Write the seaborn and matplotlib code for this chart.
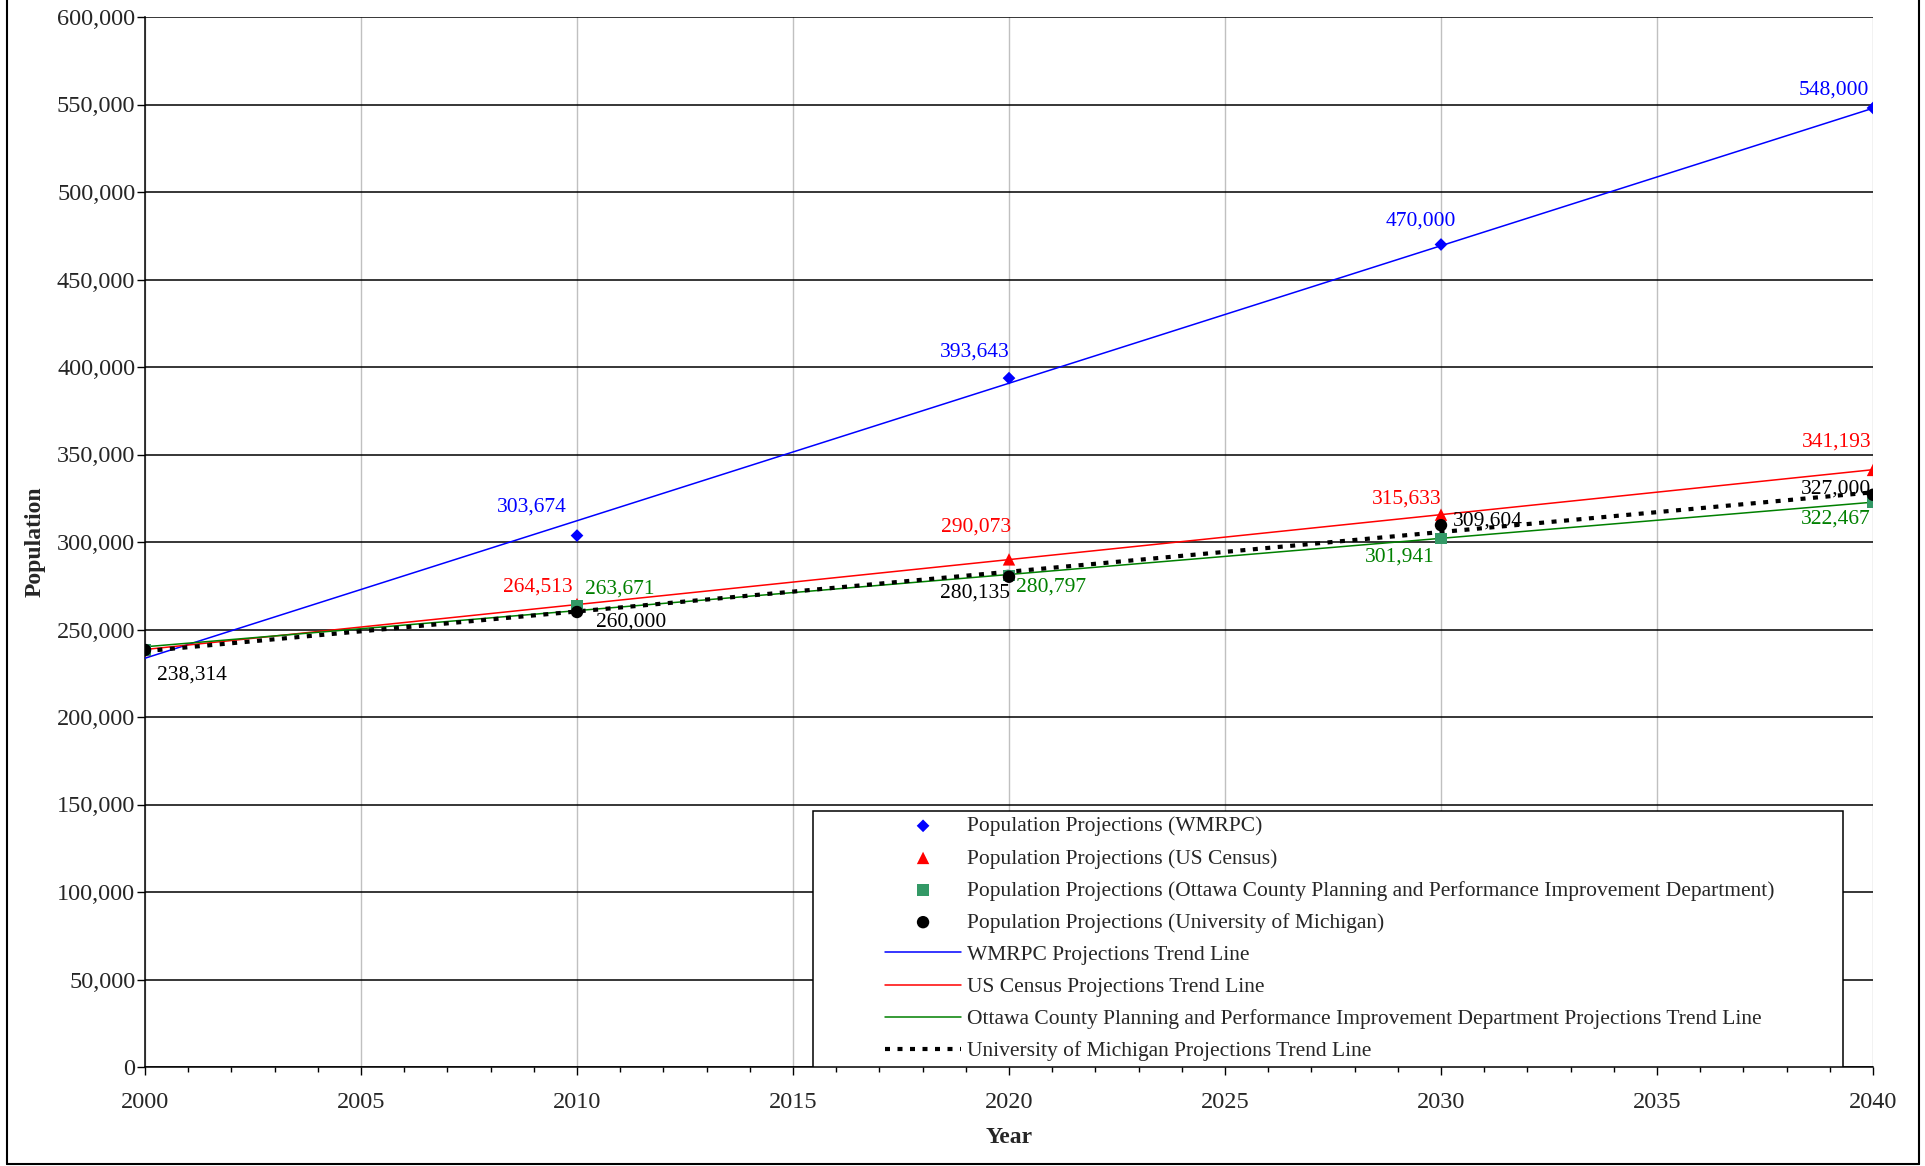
import numpy as np
import pandas as pd
import matplotlib
matplotlib.use("Agg")
import matplotlib.pyplot as plt
from matplotlib.ticker import MultipleLocator, FuncFormatter
from matplotlib.patches import Rectangle
from matplotlib.lines import Line2D
import seaborn as sns

# ---------------- data ----------------
years = [2000, 2010, 2020, 2030, 2040]
wmrpc = [238314, 303674, 393643, 470000, 548000]
census = [238314, 264513, 290073, 315633, 341193]
ottawa = [238314, 263671, 280797, 301941, 322467]
umich = [238314, 260000, 280135, 309604, 327000]

point_names = [
    "Population Projections (WMRPC)",
    "Population Projections (US Census)",
    "Population Projections (Ottawa County Planning and Performance Improvement Department)",
    "Population Projections (University of Michigan)",
]
trend_names = [
    "WMRPC Projections Trend Line",
    "US Census Projections Trend Line",
    "Ottawa County Planning and Performance Improvement Department Projections Trend Line",
    "University of Michigan Projections Trend Line",
]
# which points carry a data label (index into years)
labelled = [[1, 2, 3, 4], [1, 2, 3, 4], [1, 2, 3, 4], [0, 1, 2, 3, 4]]

# ---------------- styles ----------------
series = [wmrpc, census, ottawa, umich]
marker_colors = ["#0000FF", "#FF0000", "#339966", "#000000"]
line_colors = ["#0000FF", "#FF0000", "#008000", "#000000"]
text_colors = ["#0000FF", "#FF0000", "#008000", "#000000"]
markers = ["D", "^", "s", "o"]
msizes = [42, 80, 70, 80]
# label offsets in pixels (dx, dy) per labelled point
offsets = [
    [(-45, 29), (-34, 26), (-20, 23), (-39, 18)],
    [(-39, 17), (-33, 32), (-34, 16), (-36, 28)],
    [(43, 17), (42, -11), (-41, -18), (-37, -16)],
    [(47, -25), (54, -10), (-34, -16), (47, 4), (-37, 6)],
]

sns.set_style("white")
plt.rcParams["font.family"] = ["Liberation Serif", "DejaVu Serif"]

W, H = 1925, 1166
fig = plt.figure(figsize=(W / 100, H / 100), dpi=100)
L, R, T, B = 145, 1873, 17, 1067
ax = fig.add_axes([L / W, 1 - B / H, (R - L) / W, (B - T) / H])

# long-form data for seaborn
rows = []
for name, vals in zip(point_names, series):
    for y, v in zip(years, vals):
        rows.append({"Year": y, "Population": v, "series": name})
df = pd.DataFrame(rows)

xfit = np.linspace(2000, 2040, 81)
trend_rows = []
for name, vals in zip(trend_names, series):
    coef = np.polyfit(years, vals, 1)
    for xv in xfit:
        trend_rows.append({"Year": xv, "Population": np.polyval(coef, xv), "series": name})
tdf = pd.DataFrame(trend_rows)

# trend lines
for i, name in enumerate(trend_names):
    sub = tdf[tdf["series"] == name]
    sns.lineplot(data=sub, x="Year", y="Population", ax=ax, color=line_colors[i],
                 lw=3.0 if i == 3 else 1.1, linestyle=(0, (1.2, 1.8)) if i == 3 else "-",
                 label=name, zorder=3)

# markers
for i, name in enumerate(point_names):
    sub = df[df["series"] == name]
    sns.scatterplot(data=sub, x="Year", y="Population", ax=ax, color=marker_colors[i],
                    marker=markers[i], s=msizes[i], edgecolor="none", label=name, zorder=4)

# data labels
for i, vals in enumerate(series):
    for k, idx in enumerate(labelled[i]):
        dx, dy = offsets[i][k]
        ax.annotate(f"{vals[idx]:,}", (years[idx], vals[idx]), xytext=(dx, dy),
                    textcoords="offset pixels", ha="center", va="center",
                    color=text_colors[i], fontsize=15.5, zorder=5)

# axes
ax.set_xlim(2000, 2040)
ax.set_ylim(0, 600000)
ax.xaxis.set_major_locator(MultipleLocator(5))
ax.xaxis.set_minor_locator(MultipleLocator(1))
ax.yaxis.set_major_locator(MultipleLocator(50000))
ax.yaxis.set_major_formatter(FuncFormatter(lambda v, p: f"{int(v):,}"))
ax.grid(axis="y", color="black", lw=1.1, zorder=1)
ax.grid(axis="x", which="major", color="#c0c0c0", lw=1.0, zorder=1)
ax.set_axisbelow(True)
for s in ["top", "right"]:
    ax.spines[s].set_visible(False)
for s in ["left", "bottom"]:
    ax.spines[s].set_color("black")
    ax.spines[s].set_linewidth(1.1)
ax.tick_params(axis="x", which="major", direction="out", length=6, width=1, color="black",
               pad=12, labelsize=17.5, bottom=True)
ax.tick_params(axis="x", which="minor", direction="out", length=3.5, width=1, color="black",
               bottom=True)
ax.tick_params(axis="y", which="major", direction="out", length=6, width=1, color="black",
               pad=1, labelsize=17.5, left=True)
ax.set_xlabel("Year", fontsize=17, fontweight="bold", labelpad=10)
ax.set_ylabel("Population", fontsize=17, fontweight="bold", labelpad=8)

# legend: frame drawn separately, legend itself frameless
lx0, ly0, lx1, ly1 = 813, 811, 1843, 1067
ax.add_patch(Rectangle(((lx0 - L) / (R - L), 1 - (ly1 - T) / (B - T)),
                       (lx1 - lx0) / (R - L), (ly1 - ly0) / (B - T),
                       transform=ax.transAxes, facecolor="white", edgecolor="black",
                       lw=1.1, zorder=6))
h, l = ax.get_legend_handles_labels()
order = [l.index(n) for n in point_names + trend_names]
leg = ax.legend([h[o] for o in order], [l[o] for o in order],
                loc="upper left",
                bbox_to_anchor=((880 - L) / (R - L), 1 - (ly0 - T) / (B - T)),
                frameon=False, fontsize=15.5, handlelength=3.5, handletextpad=0.3,
                labelspacing=0.56, borderpad=0.25, borderaxespad=0)
leg.set_zorder(7)

# outer border (left, right, bottom)
bx0, bx1, by = 7 / W, 1919 / W, 1 - 1164 / H
for xs, ys in [([bx0, bx0], [by, 1]), ([bx1, bx1], [by, 1]), ([bx0, bx1], [by, by])]:
    fig.add_artist(Line2D(xs, ys, transform=fig.transFigure, color="black", lw=1.5))

fig.savefig("out.png", dpi=100)
